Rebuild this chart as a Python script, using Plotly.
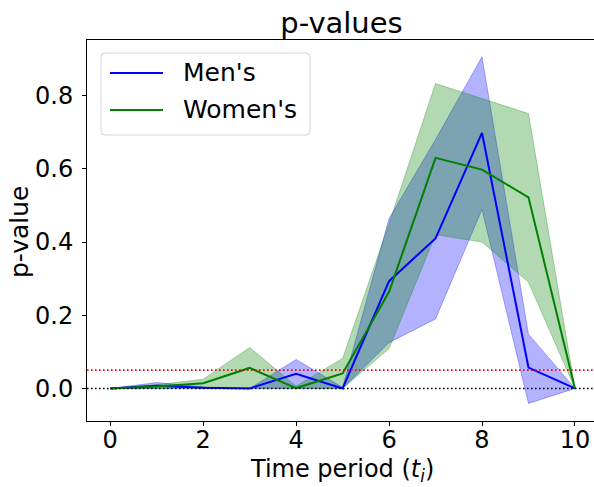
import plotly.graph_objects as go

t = [0, 1, 2, 3, 4, 5, 6, 7, 8, 9, 10]
men = [0.0, 0.007, 0.002, 0.0, 0.040, 0.0, 0.293, 0.410, 0.698, 0.057, 0.0]
men_lo = [0.0, 0.0, 0.0, 0.0, 0.0, 0.0, 0.125, 0.190, 0.489, -0.041, 0.0]
men_hi = [0.0, 0.016, 0.004, 0.0, 0.079, 0.003, 0.464, 0.680, 0.906, 0.148, 0.0]
women = [0.0, 0.005, 0.014, 0.056, 0.001, 0.041, 0.264, 0.630, 0.598, 0.522, 0.0]
women_lo = [0.0, 0.0, 0.003, 0.002, 0.0, 0.0, 0.109, 0.420, 0.400, 0.290, 0.0]
women_hi = [0.0, 0.010, 0.025, 0.112, 0.006, 0.082, 0.450, 0.833, 0.792, 0.751, 0.0]
series_names = ["Men's", "Women's"]
alpha_level = 0.05
x_ticks = [0, 2, 4, 6, 8, 10]
y_ticks = [0.0, 0.2, 0.4, 0.6, 0.8]
x_title = "Time period (<i>t</i><sub><i>i</i></sub>)"
y_title = "p-value"

BLUE = "rgb(0,0,255)"
GREEN = "rgb(0,128,0)"
BLUE_F = "rgba(0,0,255,0.3)"
GREEN_F = "rgba(0,128,0,0.3)"
FONT = "DejaVu Sans"

W, H = 594, 487
L, R, T, B = 87, 0, 40, 66
PW, PH = W - L - R, H - T - B

def px(xp):
    return (xp - L) / PW

def py(yp):
    return (H - B - yp) / PH

fig = go.Figure()

def band(lo, hi, fill):
    fig.add_trace(go.Scatter(x=t + t[::-1], y=hi + lo[::-1], fill="toself",
                             fillcolor=fill, line=dict(color=fill, width=1),
                             mode="lines", showlegend=False, hoverinfo="skip"))

band(men_lo, men_hi, BLUE_F)
band(women_lo, women_hi, GREEN_F)

fig.add_trace(go.Scatter(x=t, y=men, mode="lines", name=series_names[0],
                         line=dict(color=BLUE, width=2), showlegend=False))
fig.add_trace(go.Scatter(x=t, y=women, mode="lines", name=series_names[1],
                         line=dict(color=GREEN, width=2), showlegend=False))

fig.add_shape(type="line", xref="paper", x0=0, x1=1, yref="y", y0=alpha_level, y1=alpha_level,
              line=dict(color="red", width=1.6, dash="1.6px,2.4px"), layer="above")
fig.add_shape(type="line", xref="paper", x0=0, x1=1, yref="y", y0=0, y1=0,
              line=dict(color="black", width=1.6, dash="1.6px,2.4px"), layer="above")

# legend box (rounded rectangle) drawn in paper coordinates
bx0, bx1, by0, by1, r = 101, 310, 53, 135, 4
path = (f"M {px(bx0 + r)},{py(by0)} L {px(bx1 - r)},{py(by0)} "
        f"Q {px(bx1)},{py(by0)} {px(bx1)},{py(by0 + r)} "
        f"L {px(bx1)},{py(by1 - r)} Q {px(bx1)},{py(by1)} {px(bx1 - r)},{py(by1)} "
        f"L {px(bx0 + r)},{py(by1)} Q {px(bx0)},{py(by1)} {px(bx0)},{py(by1 - r)} "
        f"L {px(bx0)},{py(by0 + r)} Q {px(bx0)},{py(by0)} {px(bx0 + r)},{py(by0)} Z")
fig.add_shape(type="path", xref="paper", yref="paper", path=path,
              fillcolor="rgba(255,255,255,0.8)", line=dict(color="#d6d6d6", width=1), layer="above")
for name, col, yy in zip(series_names, [BLUE, GREEN], [73, 110]):
    fig.add_shape(type="line", xref="paper", yref="paper", x0=px(110), x1=px(163),
                  y0=py(yy), y1=py(yy), line=dict(color=col, width=2), layer="above")
    fig.add_annotation(xref="paper", yref="paper", x=px(181), y=py(yy), text=name,
                       showarrow=False, xanchor="left", yanchor="middle",
                       font=dict(size=25, family=FONT, color="black"))

# axis titles
fig.add_annotation(xref="paper", yref="paper", x=px(342), y=py(470), text=x_title,
                   showarrow=False, xanchor="center", yanchor="middle",
                   font=dict(size=24, family=FONT, color="black"))
fig.add_annotation(xref="paper", yref="paper", x=px(19), y=py(232), text=y_title,
                   showarrow=False, xanchor="center", yanchor="middle", textangle=-90,
                   font=dict(size=25, family=FONT, color="black"))

fig.update_layout(
    width=W, height=H,
    margin=dict(l=L, r=R, t=T, b=B),
    paper_bgcolor="white", plot_bgcolor="white",
    font=dict(family=FONT, size=24, color="black"),
    title=dict(text="p-values", x=px(341.5), xanchor="center", xref="paper",
               y=1 - 23 / H, yanchor="middle", yref="container",
               font=dict(size=29, family=FONT, color="black")),
    showlegend=False,
)
fig.update_xaxes(range=[-0.5, 10.41], tickvals=x_ticks, ticktext=[str(v) for v in x_ticks],
                 showgrid=False, zeroline=False, showline=True, linecolor="black", linewidth=1,
                 mirror=True, ticks="outside", ticklen=4, tickcolor="black", automargin=False,
                 tickfont=dict(size=24, family=FONT), ticklabelstandoff=-7)
fig.update_yaxes(range=[-0.089, 0.952], tickvals=y_ticks, tickformat=".1f",
                 showgrid=False, zeroline=False, showline=True, linecolor="black", linewidth=1,
                 mirror=False, ticks="outside", ticklen=4, tickcolor="black", automargin=False,
                 tickfont=dict(size=24, family=FONT), ticklabelstandoff=4)

fig.write_html("out.html", default_width="594px", default_height="487px",
               config={"displayModeBar": False},
               post_script="document.body.style.margin='0px';")
